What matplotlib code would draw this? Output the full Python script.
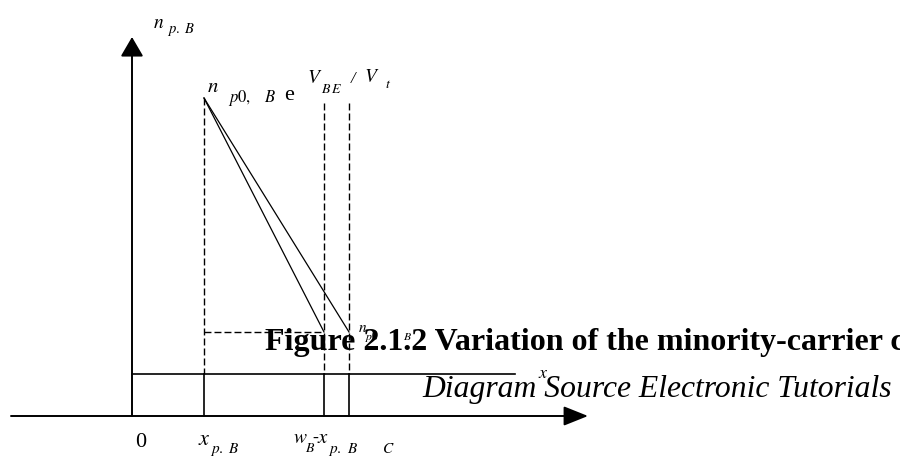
import matplotlib
matplotlib.use('Agg')
import matplotlib.pyplot as plt

plt.rcParams['mathtext.fontset'] = 'stix'
plt.rcParams['font.family'] = ['Liberation Serif', 'DejaVu Serif']

# positions along the base: origin, x_p.B, w_B - x_p.BC (two widths)
x_origin = 0
x_pB = 72
w_B = [192, 217]
# minority-carrier concentration levels
n_peak = 318
n_end = 84
n_floor = 42
x_line_end = 383
dash_top = 313

tick_labels = ['0', r'$x_{p.B}$', r'$w_B$-$x_{p.BC}$']

fig = plt.figure(figsize=(9, 4.57), dpi=100)
ax = fig.add_axes([0, 0, 1, 1])
# data units are pixels measured from the axes crossing
ox, oy = 132, 416
ax.set_xlim(-ox, 900 - ox)
ax.set_ylim(oy - 457, oy)
ax.axis('off')


def put(s, px, py, size, **kw):
    # px, py: left edge and baseline in image pixels
    ax.text(px - ox, oy - py, s, fontsize=size, ha='left', va='baseline', **kw)


# main axes with arrow heads
ax.annotate('', xy=(456, 0), xytext=(-121, 0),
            arrowprops=dict(arrowstyle='-|>,head_length=0.75,head_width=0.3',
                            mutation_scale=20, lw=1.4, color='black',
                            shrinkA=0, shrinkB=0))
ax.annotate('', xy=(0, 379), xytext=(0, 0),
            arrowprops=dict(arrowstyle='-|>,head_length=0.6,head_width=0.35',
                            mutation_scale=20, lw=1.4, color='black',
                            shrinkA=0, shrinkB=0))

# inner x line
ax.plot([x_origin, x_line_end], [n_floor, n_floor], color='black', lw=1.2)

dash = dict(color='black', lw=1.0, linestyle=(0, (5, 2.2)))
# dashed guides above the inner line, solid below it
ax.plot([x_pB, x_pB], [n_peak, n_floor], **dash)
ax.plot([x_pB, x_pB], [n_floor, 0], color='black', lw=1.2)
for w in w_B:
    ax.plot([w, w], [dash_top, n_floor], **dash)
    ax.plot([w, w], [n_floor, 0], color='black', lw=1.2)
ax.plot([x_pB, w_B[0]], [n_end, n_end], **dash)

# linear concentration profiles
for w in w_B:
    ax.plot([x_pB, w], [n_peak, n_end], color='black', lw=0.9)

# y-axis label n_p.B
put(r'$n$', 153, 28, 14)
put(r'$p.$', 167, 33, 10.5)
put(r'$B$', 184, 33, 10.5)

# peak value n_p0,B e^(V_BE / V_t)
put(r'$n$', 207, 92, 15)
put(r'$p0,$', 228, 102, 12)
put(r'$B$', 264, 102, 12)
put('e', 284, 100, 16)
put(r'$V$', 307, 83, 14)
put(r'$B$', 321, 93, 10)
put(r'$E$', 331, 93, 10)
put('/', 351, 83, 12, style='italic')
put(r'$V$', 364, 82, 14)
put(r'$t$', 385, 88, 10)

# end value n_p0,B
put(r'$n$', 358, 332, 11)
put(r'$p0$', 365, 340, 8.5)
put(r'$B$', 403, 340, 8.5)

put(r'$x$', 538, 378, 13)

# positions along the base
put(tick_labels[0], 135, 447, 16)
put(r'$x$', 198, 445, 16)
put(r'$p.$', 210, 453, 11)
put(r'$B$', 228, 453, 11)
put(r'$w$', 293, 443, 14)
put(r'$B$', 305, 452, 10)
put('-', 312, 443, 13)
put(r'$x$', 317, 443, 15)
put(r'$p.$', 328, 453, 11)
put(r'$B$', 347, 453, 11)
put(r'$C$', 382, 453, 11)

put('Figure 2.1.2 Variation of the minority-carrier concentration in the base',
    265, 350, 23, fontweight='bold')
put('Diagram Source Electronic Tutorials', 422, 397, 22.8, style='italic')

fig.savefig('out.png', dpi=100)
